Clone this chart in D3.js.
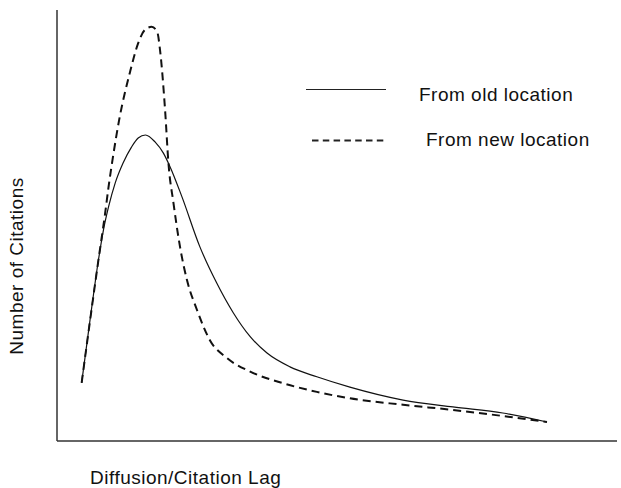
<!DOCTYPE html>
<html>
<head>
<meta charset="utf-8">
<script src="https://cdn.jsdelivr.net/npm/d3@7"></script>
<style>
  body { margin: 0; background: #fff; }
  text { font-family: "Liberation Sans", Arial, sans-serif; fill: #111; }
</style>
</head>
<body>
<div class="chart"></div>
<script>
// curve shapes (arbitrary units, 0-100)
let oldLag = [4.4, 5.9, 7.4, 8.3, 9.2, 10.4, 11.8, 13.3, 14.5, 15.8, 17.5, 19.0, 20.2, 22.3, 25.5, 28.5, 31.5, 34.5, 37.5, 41.6, 46.4, 52.3, 61.8, 70.7, 79.6, 87.5];
let oldCites = [13.5, 28.1, 42.0, 49.0, 54.3, 59.9, 64.5, 68.2, 70.3, 71.0, 69.4, 66.8, 63.6, 56.7, 45.1, 36.7, 29.7, 24.2, 20.4, 17.2, 14.9, 12.5, 9.5, 7.9, 6.5, 4.4];

let newLag = [4.4, 7.4, 8.6, 9.2, 10.1, 11.1, 13.0, 14.5, 15.7, 16.9, 17.9, 18.4, 19.3, 19.9, 20.8, 22.0, 23.2, 25.0, 27.3, 30.3, 34.5, 40.4, 46.4, 52.3, 61.8, 70.7, 79.6, 87.5];
let newCites = [13.5, 42.0, 52.9, 58.9, 66.8, 74.5, 85.4, 92.3, 95.4, 96.1, 94.9, 90.7, 76.8, 64.5, 55.2, 44.8, 37.4, 30.4, 23.4, 19.3, 16.1, 13.4, 11.4, 9.9, 8.4, 7.2, 5.8, 4.4];

let seriesNames = ["From old location", "From new location"];
let xLabel = "Diffusion/Citation Lag";
let yLabel = "Number of Citations";

let width = 621, height = 488;

let svg = d3.select(".chart").append("svg")
    .attr("width", width)
    .attr("height", height);

let x = d3.scaleLinear().domain([0, 100]).range([57, 617]);
let y = d3.scaleLinear().domain([0, 100]).range([441, 10]);

// axes: plain lines, no ticks
svg.append("line")
    .attr("x1", x(0)).attr("x2", x(0))
    .attr("y1", y(0)).attr("y2", y(100))
    .attr("stroke", "#333").attr("stroke-width", 1.5);
svg.append("line")
    .attr("x1", x(0)).attr("x2", x(100))
    .attr("y1", y(0)).attr("y2", y(0))
    .attr("stroke", "#333").attr("stroke-width", 1.5);

let line = d3.line()
    .x(d => x(d[0]))
    .y(d => y(d[1]))
    .curve(d3.curveMonotoneX);

let oldData = d3.zip(oldLag, oldCites);
let newData = d3.zip(newLag, newCites);

svg.append("path")
    .datum(oldData)
    .attr("d", line)
    .attr("fill", "none")
    .attr("stroke", "#111")
    .attr("stroke-width", 1.2);

svg.append("path")
    .datum(newData)
    .attr("d", line)
    .attr("fill", "none")
    .attr("stroke", "#111")
    .attr("stroke-width", 2)
    .attr("stroke-dasharray", "8,5");

// legend
svg.append("line")
    .attr("x1", 306).attr("x2", 386)
    .attr("y1", 89.5).attr("y2", 89.5)
    .attr("stroke", "#222").attr("stroke-width", 1.2);
svg.append("text")
    .attr("x", 419).attr("y", 101)
    .style("font-size", "19px")
    .style("letter-spacing", "0.5px")
    .text(seriesNames[0]);

svg.append("line")
    .attr("x1", 312).attr("x2", 385)
    .attr("y1", 140.5).attr("y2", 140.5)
    .attr("stroke", "#222").attr("stroke-width", 2)
    .attr("stroke-dasharray", "6.5,4.3");
svg.append("text")
    .attr("x", 426).attr("y", 146)
    .style("font-size", "19px")
    .style("letter-spacing", "0.5px")
    .text(seriesNames[1]);

// axis titles
svg.append("text")
    .attr("x", 90).attr("y", 484)
    .style("font-size", "19px")
    .style("letter-spacing", "0.5px")
    .text(xLabel);

svg.append("text")
    .attr("transform", "translate(23,266) rotate(-90)")
    .attr("text-anchor", "middle")
    .style("font-size", "19px")
    .style("letter-spacing", "0.5px")
    .text(yLabel);
</script>
</body>
</html>
